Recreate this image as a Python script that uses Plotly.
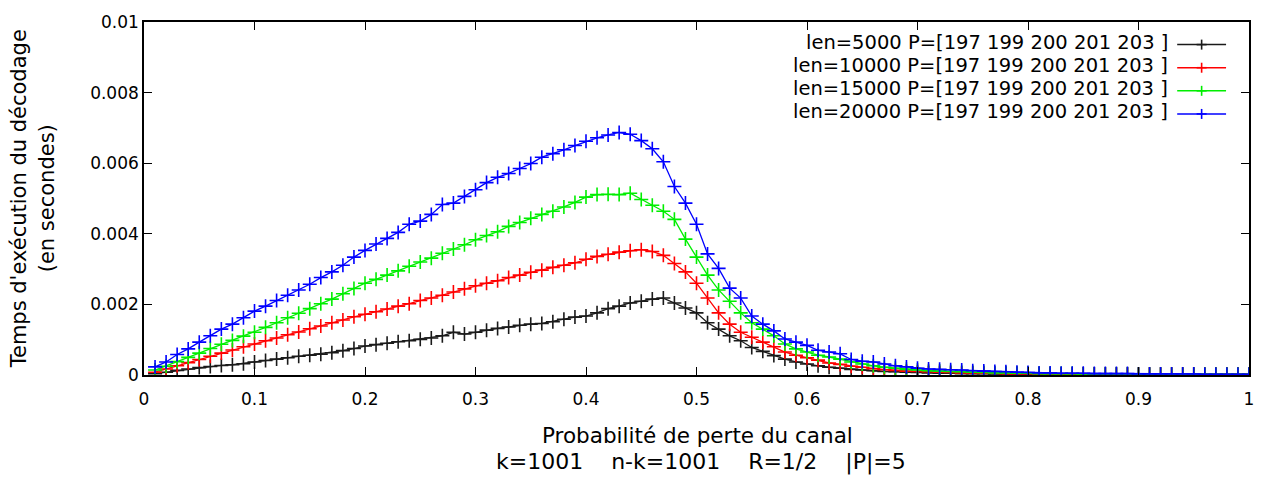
import plotly.graph_objects as go

p = [0.01, 0.02, 0.03, 0.04, 0.05, 0.06, 0.07, 0.08, 0.09, 0.10,
     0.11, 0.12, 0.13, 0.14, 0.15, 0.16, 0.17, 0.18, 0.19, 0.20,
     0.21, 0.22, 0.23, 0.24, 0.25, 0.26, 0.27, 0.28, 0.29, 0.30,
     0.31, 0.32, 0.33, 0.34, 0.35, 0.36, 0.37, 0.38, 0.39, 0.40,
     0.41, 0.42, 0.43, 0.44, 0.45, 0.46, 0.47, 0.48, 0.49, 0.50,
     0.51, 0.52, 0.53, 0.54, 0.55, 0.56, 0.57, 0.58, 0.59, 0.60,
     0.61, 0.62, 0.63, 0.64, 0.65, 0.66, 0.67, 0.68, 0.69, 0.70,
     0.71, 0.72, 0.73, 0.74, 0.75, 0.76, 0.77, 0.78, 0.79, 0.80,
     0.81, 0.82, 0.83, 0.84, 0.85, 0.86, 0.87, 0.88, 0.89, 0.90,
     0.91, 0.92, 0.93, 0.94, 0.95, 0.96, 0.97, 0.98, 0.99, 1.00]

# decoding times in milliseconds (converted to seconds below)
t_len5000 = [0.04, 0.08, 0.13, 0.17, 0.21, 0.24, 0.27, 0.29, 0.32, 0.37,
             0.41, 0.45, 0.49, 0.53, 0.56, 0.59, 0.63, 0.69, 0.75, 0.82,
             0.86, 0.90, 0.94, 0.97, 1.01, 1.05, 1.11, 1.21, 1.16, 1.21,
             1.27, 1.32, 1.36, 1.41, 1.44, 1.46, 1.51, 1.58, 1.64, 1.67,
             1.76, 1.88, 1.95, 2.04, 2.09, 2.15, 2.18, 2.04, 1.90, 1.76,
             1.48, 1.30, 1.11, 0.97, 0.78, 0.67, 0.55, 0.45, 0.37, 0.31,
             0.26, 0.22, 0.19, 0.16, 0.14, 0.12, 0.10, 0.09, 0.08, 0.07,
             0.06, 0.05, 0.05, 0.04, 0.04, 0.04, 0.03, 0.03, 0.03, 0.03,
             0.02, 0.02, 0.02, 0.02, 0.02, 0.02, 0.02, 0.02, 0.02, 0.02,
             0.02, 0.02, 0.02, 0.02, 0.02, 0.02, 0.02, 0.02, 0.02, 0.02]

t_len10000 = [0.08, 0.17, 0.26, 0.35, 0.44, 0.53, 0.62, 0.71, 0.80, 0.88,
              0.97, 1.05, 1.14, 1.22, 1.31, 1.39, 1.48, 1.56, 1.65, 1.72,
              1.79, 1.87, 1.95, 2.02, 2.11, 2.18, 2.26, 2.35, 2.44, 2.53,
              2.60, 2.67, 2.76, 2.83, 2.91, 2.97, 3.05, 3.11, 3.18, 3.28,
              3.36, 3.42, 3.48, 3.52, 3.55, 3.50, 3.39, 3.16, 2.92, 2.60,
              2.18, 1.76, 1.44, 1.21, 1.07, 0.93, 0.80, 0.65, 0.56, 0.49,
              0.42, 0.34, 0.30, 0.25, 0.22, 0.18, 0.15, 0.13, 0.11, 0.10,
              0.09, 0.08, 0.07, 0.06, 0.06, 0.05, 0.05, 0.04, 0.04, 0.04,
              0.03, 0.03, 0.03, 0.03, 0.03, 0.03, 0.02, 0.02, 0.02, 0.02,
              0.02, 0.02, 0.02, 0.02, 0.02, 0.02, 0.02, 0.02, 0.02, 0.02]

t_len15000 = [0.14, 0.25, 0.38, 0.50, 0.62, 0.75, 0.87, 0.98, 1.10, 1.21,
              1.35, 1.48, 1.62, 1.75, 1.88, 2.02, 2.15, 2.30, 2.45, 2.60,
              2.71, 2.83, 2.95, 3.08, 3.20, 3.31, 3.45, 3.57, 3.69, 3.83,
              3.95, 4.06, 4.21, 4.32, 4.44, 4.55, 4.64, 4.76, 4.89, 5.04,
              5.11, 5.12, 5.11, 5.15, 4.97, 4.81, 4.64, 4.41, 3.85, 3.34,
              2.83, 2.41, 2.09, 1.76, 1.48, 1.30, 1.11, 0.88, 0.74, 0.65,
              0.56, 0.51, 0.45, 0.37, 0.31, 0.26, 0.22, 0.19, 0.16, 0.14,
              0.12, 0.11, 0.10, 0.09, 0.08, 0.07, 0.06, 0.06, 0.05, 0.05,
              0.04, 0.04, 0.04, 0.04, 0.03, 0.03, 0.03, 0.03, 0.03, 0.02,
              0.02, 0.02, 0.02, 0.02, 0.02, 0.02, 0.02, 0.02, 0.02, 0.02]

t_len20000 = [0.23, 0.37, 0.58, 0.74, 0.93, 1.11, 1.30, 1.44, 1.62, 1.81,
              1.95, 2.11, 2.26, 2.41, 2.57, 2.76, 2.92, 3.11, 3.34, 3.53,
              3.71, 3.87, 4.04, 4.27, 4.36, 4.55, 4.83, 4.87, 5.06, 5.25,
              5.45, 5.60, 5.71, 5.85, 5.99, 6.17, 6.27, 6.38, 6.50, 6.62,
              6.72, 6.80, 6.87, 6.82, 6.64, 6.41, 6.04, 5.34, 4.87, 4.27,
              3.43, 3.02, 2.46, 2.18, 1.67, 1.44, 1.25, 1.02, 0.93, 0.84,
              0.70, 0.65, 0.60, 0.44, 0.39, 0.37, 0.31, 0.26, 0.23, 0.19,
              0.17, 0.16, 0.15, 0.14, 0.12, 0.11, 0.10, 0.09, 0.08, 0.07,
              0.06, 0.06, 0.05, 0.05, 0.05, 0.04, 0.04, 0.04, 0.04, 0.03,
              0.03, 0.03, 0.03, 0.03, 0.03, 0.02, 0.02, 0.02, 0.02, 0.02]

series_names = ["len=5000 P=[197 199 200 201 203 ]",
                "len=10000 P=[197 199 200 201 203 ]",
                "len=15000 P=[197 199 200 201 203 ]",
                "len=20000 P=[197 199 200 201 203 ]"]
series_colors = ["#1a1a1a", "#ff0000", "#00ee00", "#0000ff"]
series_values = [t_len5000, t_len10000, t_len15000, t_len20000]

x_tickvals = [0, 0.1, 0.2, 0.3, 0.4, 0.5, 0.6, 0.7, 0.8, 0.9, 1]
x_ticktext = ["0", "0.1", "0.2", "0.3", "0.4", "0.5", "0.6", "0.7", "0.8", "0.9", "1"]
y_tickvals = [0, 0.002, 0.004, 0.006, 0.008, 0.01]
y_ticktext = ["0", "0.002", "0.004", "0.006", "0.008", "0.01"]

x_title = "Probabilité de perte du canal"
x_subtitle = "k=1001\u00a0\u00a0\u00a0\u00a0n-k=1001\u00a0\u00a0\u00a0\u00a0R=1/2\u00a0\u00a0\u00a0\u00a0|P|=5"
y_title = "Temps d'exécution du décodage<br>(en secondes)"

FONT = "DejaVu Sans, Open Sans, sans-serif"

fig = go.Figure()
for name, col, vals in zip(series_names, series_colors, series_values):
    fig.add_trace(go.Scatter(
        x=p, y=[v / 1000.0 for v in vals], mode="lines+markers", name=name,
        line=dict(color=col, width=1.3),
        marker=dict(symbol="cross-thin", size=10, line=dict(color=col, width=1.6)),
        showlegend=False))

L, R, T, B = 144, 14, 16, 102
W, H = 1266, 477
pw, ph = W - L - R, H - T - B

def px_x(px):
    return (px - L) / pw

def px_y(py):
    return (H - B - py) / ph

annotations = []
shapes = []
row_y = [37, 60.5, 84, 107.5]
for i, (name, col) in enumerate(zip(series_names, series_colors)):
    yy = px_y(row_y[i])
    annotations.append(dict(text=name, x=px_x(1173), y=yy, xref="paper", yref="paper",
                            xanchor="right", yanchor="middle", showarrow=False,
                            font=dict(family=FONT, size=19.5, color="black")))
    ly = px_y(row_y[i] + 2)
    shapes.append(dict(type="line", xref="paper", yref="paper",
                       x0=px_x(1180), x1=px_x(1229), y0=ly, y1=ly,
                       line=dict(color=col, width=1.5)))
    shapes.append(dict(type="line", xref="paper", yref="paper", xsizemode="pixel",
                       ysizemode="pixel", xanchor=px_x(1204.5), yanchor=ly,
                       x0=0, x1=0, y0=-5, y1=5, line=dict(color=col, width=1.6)))
    shapes.append(dict(type="line", xref="paper", yref="paper", xsizemode="pixel",
                       ysizemode="pixel", xanchor=px_x(1204.5), yanchor=ly,
                       x0=-5, x1=5, y0=0, y1=0, line=dict(color=col, width=1.6)))

annotations.append(dict(text=x_title, x=px_x(699), y=px_y(437), xref="paper", yref="paper",
                        xanchor="center", yanchor="middle", showarrow=False,
                        font=dict(family=FONT, size=21.5, color="black")))
annotations.append(dict(text=x_subtitle, x=px_x(703), y=px_y(463), xref="paper", yref="paper",
                        xanchor="center", yanchor="middle", showarrow=False,
                        font=dict(family=FONT, size=22, color="black")))
annotations.append(dict(text=y_title, x=px_x(33), y=px_y(196), xref="paper", yref="paper",
                        xanchor="center", yanchor="middle", showarrow=False, textangle=-90,
                        font=dict(family=FONT, size=21, color="black")))

axis_common = dict(showgrid=False, zeroline=False, showline=True, linecolor="black",
                   linewidth=1.6, mirror="ticks", ticks="inside", ticklen=8,
                   tickcolor="black", tickwidth=1.3,
                   tickfont=dict(family=FONT, size=17, color="black"))

fig.update_layout(
    width=W, height=H,
    margin=dict(l=L, r=R, t=T, b=B, pad=0),
    paper_bgcolor="white", plot_bgcolor="white",
    xaxis=dict(range=[0, 1], tickvals=x_tickvals, ticktext=x_ticktext,
               ticklabelstandoff=8, **axis_common),
    yaxis=dict(range=[0, 0.01], tickvals=y_tickvals, ticktext=y_ticktext, **axis_common),
    annotations=annotations, shapes=shapes,
)

fig.write_html("out.html", config={"displayModeBar": False},
               post_script="document.body.style.margin='0';document.body.style.padding='0';")
